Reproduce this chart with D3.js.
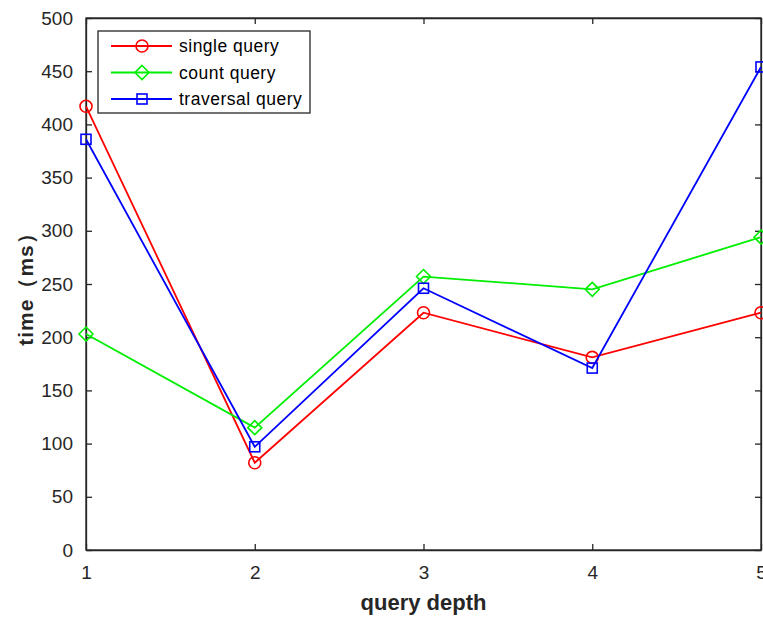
<!DOCTYPE html>
<html>
<head>
<meta charset="utf-8">
<script src="https://cdn.jsdelivr.net/npm/d3@7"></script>
<style>
  body { margin: 0; background: #fff; }
  svg text { font-family: "Liberation Sans", Arial, sans-serif; }
</style>
</head>
<body>
<div id="chart"></div>
<script>
// --- data ---
const depths = [1, 2, 3, 4, 5];
const singleQuery = [417, 82, 223, 181, 223];
const countQuery = [203, 115, 257, 245, 294];
const traversalQuery = [386, 97, 246, 171, 454];
const yTicks = [0, 50, 100, 150, 200, 250, 300, 350, 400, 450, 500];

const series = [
  { name: 'single query', values: singleQuery, color: '#ff0000', marker: 'circle' },
  { name: 'count query', values: countQuery, color: '#00ee00', marker: 'diamond' },
  { name: 'traversal query', values: traversalQuery, color: '#0000ff', marker: 'square' }
];

const width = 763, height = 617;
const margin = { left: 86, right: 2, top: 18, bottom: 67 };

const svg = d3.select('#chart').append('svg')
  .attr('width', width)
  .attr('height', height);

const x = d3.scaleLinear().domain([1, 5]).range([margin.left, width - margin.right]);
const y = d3.scaleLinear().domain([0, 500]).range([height - margin.bottom, margin.top]);

const axisColor = '#262626';

// box
svg.append('rect')
  .attr('x', x(1)).attr('y', y(500))
  .attr('width', x(5) - x(1)).attr('height', y(0) - y(500))
  .attr('fill', 'none').attr('stroke', axisColor).attr('stroke-width', 1.3);

// axes with inward ticks
const tickLen = 6;
svg.append('g').attr('transform', `translate(0,${y(0)})`)
  .call(d3.axisBottom(x).tickValues(depths).tickFormat(d3.format('d')).tickSizeInner(-tickLen).tickSizeOuter(0).tickPadding(16));
svg.append('g').attr('transform', `translate(${x(1)},0)`)
  .call(d3.axisLeft(y).tickValues(yTicks).tickSizeInner(-tickLen).tickSizeOuter(0).tickPadding(13));
svg.append('g').attr('transform', `translate(0,${y(500)})`)
  .call(d3.axisTop(x).tickValues(depths).tickFormat('').tickSizeInner(-tickLen).tickSizeOuter(0));
svg.append('g').attr('transform', `translate(${x(5)},0)`)
  .call(d3.axisRight(y).tickValues(yTicks).tickFormat('').tickSizeInner(-tickLen).tickSizeOuter(0));

svg.selectAll('.domain').attr('stroke', axisColor).attr('stroke-width', 1.3);
svg.selectAll('.tick line').attr('stroke', axisColor).attr('stroke-width', 1.3);
svg.selectAll('.tick text').attr('fill', axisColor).attr('font-size', 19)
  .attr('font-family', '"Liberation Sans", Arial, sans-serif');

// axis labels
svg.append('text')
  .attr('x', (x(1) + x(5)) / 2).attr('y', 610)
  .attr('text-anchor', 'middle')
  .attr('font-size', 22).attr('font-weight', 'bold').attr('fill', axisColor)
  .text('query depth');
svg.append('text')
  .attr('transform', `translate(33,${(y(0) + y(500)) / 2}) rotate(-90)`)
  .attr('text-anchor', 'middle')
  .attr('font-size', 21).attr('font-weight', 'bold').attr('fill', axisColor)
  .attr('letter-spacing', 1)
  .text('time（ms）');

function drawMarker(g, type, cx, cy, color) {
  if (type === 'circle') {
    g.append('circle').attr('cx', cx).attr('cy', cy).attr('r', 6)
      .attr('fill', 'none').attr('stroke', color).attr('stroke-width', 1.6);
  } else if (type === 'diamond') {
    const s = 7;
    g.append('path').attr('d', `M${cx},${cy - s}L${cx + s},${cy}L${cx},${cy + s}L${cx - s},${cy}Z`)
      .attr('fill', 'none').attr('stroke', color).attr('stroke-width', 1.6);
  } else {
    const s = 5;
    g.append('rect').attr('x', cx - s).attr('y', cy - s).attr('width', 2 * s).attr('height', 2 * s)
      .attr('fill', 'none').attr('stroke', color).attr('stroke-width', 1.6);
  }
}

const line = d3.line().x((d, i) => x(depths[i])).y(d => y(d));

series.forEach(s => {
  const g = svg.append('g');
  g.append('path').datum(s.values)
    .attr('d', line)
    .attr('fill', 'none').attr('stroke', s.color).attr('stroke-width', 1.8);
  s.values.forEach((v, i) => drawMarker(g, s.marker, x(depths[i]), y(v), s.color));
});

// legend
const legend = svg.append('g');
legend.append('rect')
  .attr('x', 98).attr('y', 31).attr('width', 212).attr('height', 82)
  .attr('fill', '#fff').attr('stroke', axisColor).attr('stroke-width', 1.3);
series.forEach((s, i) => {
  const ly = 46 + i * 26.5;
  legend.append('line').attr('x1', 111).attr('x2', 172).attr('y1', ly).attr('y2', ly)
    .attr('stroke', s.color).attr('stroke-width', 1.8);
  drawMarker(legend, s.marker, 142, ly, s.color);
  legend.append('text').attr('x', 179).attr('y', ly + 6)
    .attr('font-size', 17.5).attr('letter-spacing', 0.5).attr('fill', '#000')
    .text(s.name);
});
</script>
</body>
</html>
